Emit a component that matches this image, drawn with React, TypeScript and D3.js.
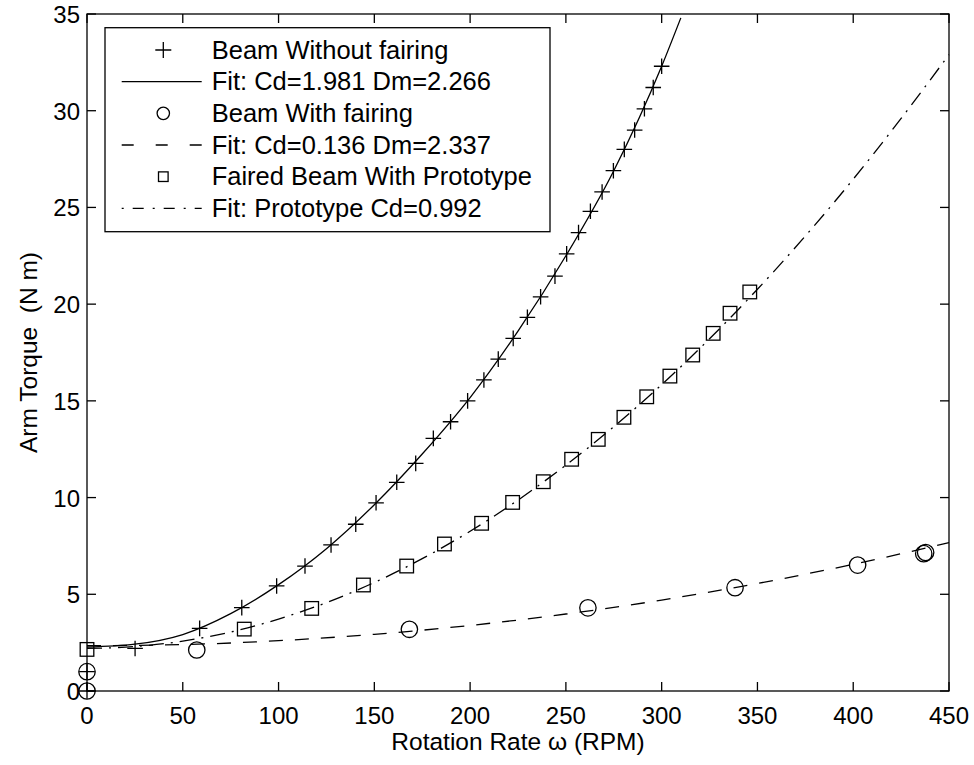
import React from "react";
import * as d3 from "d3";

// Axis ticks
const rpmTicks = [0, 50, 100, 150, 200, 250, 300, 350, 400, 450];
const torqueTicks = [0, 5, 10, 15, 20, 25, 30, 35];

// Beam without fairing: measured points
const bareRpm = [0, 0, 25.1, 58.8, 80.8, 99, 113.8, 127.4, 140.3, 150.9, 161.7, 171.6, 180.8, 189.8, 198.7, 207.2, 214.7, 222.5, 229.9, 236.8, 244.3, 250.4, 256.6, 262.8, 268.9, 274.8, 280.5, 285.9, 291, 295.6, 300];
const bareTorque = [0, 1, 2.2, 3.24, 4.31, 5.43, 6.46, 7.55, 8.62, 9.73, 10.79, 11.77, 13.06, 13.92, 15.0, 16.08, 17.16, 18.23, 19.32, 20.38, 21.45, 22.6, 23.7, 24.8, 25.8, 26.9, 28.0, 29.0, 30.1, 31.2, 32.3];

// Fit: Cd=1.981 Dm=2.266
const bareFitRpm = [0, 25, 50, 75, 100, 125, 150, 175, 200, 225, 250, 275, 300, 310];
const bareFitTorque = [2.27, 2.42, 2.92, 4.0, 5.5, 7.36, 9.63, 12.25, 15.17, 18.6, 22.5, 26.9, 32.3, 34.8];

// Beam with fairing: measured points
const fairedRpm = [0, 0, 57.3, 168.3, 261.5, 338.3, 402.3, 436.8, 437.8];
const fairedTorque = [0, 1, 2.12, 3.19, 4.3, 5.34, 6.51, 7.1, 7.16];

// Fit: Cd=0.136 Dm=2.337
const fairedFitRpm = [0, 50, 100, 150, 200, 250, 300, 350, 400, 450];
const fairedFitTorque = [2.34, 2.4, 2.6, 2.93, 3.39, 3.98, 4.7, 5.56, 6.55, 7.67];

// Faired beam with prototype: measured points
const protoRpm = [0, 82.1, 117.3, 144.3, 166.9, 186.6, 206, 222.2, 238.2, 253, 266.9, 280.3, 292.2, 304.3, 316.2, 326.9, 335.7, 346];
const protoTorque = [2.15, 3.2, 4.27, 5.48, 6.46, 7.6, 8.67, 9.75, 10.82, 11.98, 13.01, 14.15, 15.21, 16.28, 17.37, 18.49, 19.53, 20.63];

// Fit: Prototype Cd=0.992
const protoFitRpm = [0, 25, 50, 75, 100, 125, 150, 175, 200, 225, 250, 275, 300, 325, 350, 375, 400, 425, 450];
const protoFitTorque = [2.2, 2.3, 2.58, 3.05, 3.72, 4.57, 5.61, 6.84, 8.26, 9.87, 11.68, 13.66, 15.84, 18.21, 20.77, 23.52, 26.46, 29.6, 32.9];

const legendLabels = [
  "Beam Without fairing",
  "Fit: Cd=1.981 Dm=2.266",
  "Beam With fairing",
  "Fit: Cd=0.136 Dm=2.337",
  "Faired Beam With Prototype",
  "Fit: Prototype Cd=0.992",
];

const W = 974;
const H = 765;
const left = 87;
const right = 949;
const top = 14;
const bottom = 691;
const FONT = "'Liberation Sans', Arial, Helvetica, sans-serif";
const DASH = "14,12";
const DASHDOT = "15,7,2,7";

const zip = (xs: number[], ys: number[]) => xs.map((x, i) => [x, ys[i]] as [number, number]);

function Plus({ x, y, s }: { x: number; y: number; s: number }) {
  return (
    <path d={`M${x - s},${y}H${x + s}M${x},${y - s}V${y + s}`} stroke="#000" strokeWidth={1.3} fill="none" />
  );
}
function Circle({ x, y, r }: { x: number; y: number; r: number }) {
  return <circle cx={x} cy={y} r={r} stroke="#000" strokeWidth={1.3} fill="none" />;
}
function Square({ x, y, s }: { x: number; y: number; s: number }) {
  return <rect x={x - s} y={y - s} width={2 * s} height={2 * s} stroke="#000" strokeWidth={1.3} fill="none" />;
}

export default function App() {
  const xs = d3.scaleLinear().domain([0, 450]).range([left, right]);
  const ys = d3.scaleLinear().domain([0, 35]).range([bottom, top]);
  const line = d3
    .line<[number, number]>()
    .x((d) => xs(d[0]))
    .y((d) => ys(d[1]))
    .curve(d3.curveMonotoneX);

  const bare = zip(bareRpm, bareTorque);
  const faired = zip(fairedRpm, fairedTorque);
  const proto = zip(protoRpm, protoTorque);

  const tickLen = 9;
  const legX = 105;
  const legY = 27.7;
  const legW = 445;
  const rowH = 31.67;
  const rowY = (i: number) => legY + 22.3 + i * rowH;
  const mx = 163.3;

  return (
    <svg
      width={W}
      height={H}
      style={{ position: "absolute", left: 0, top: 0, background: "#fff" }}
      fontFamily={FONT}
    >
      <rect x={0} y={0} width={W} height={H} fill="#fff" />

      {/* fitted curves */}
      <path d={line(zip(bareFitRpm, bareFitTorque)) || ""} fill="none" stroke="#000" strokeWidth={1.3} />
      <path d={line(zip(fairedFitRpm, fairedFitTorque)) || ""} fill="none" stroke="#000" strokeWidth={1.3} strokeDasharray={DASH} />
      <path d={line(zip(protoFitRpm, protoFitTorque)) || ""} fill="none" stroke="#000" strokeWidth={1.3} strokeDasharray={DASHDOT} />

      {/* measured points */}
      {bare.map((d, i) => (
        <Plus key={"b" + i} x={xs(d[0])} y={ys(d[1])} s={7.8} />
      ))}
      {faired.map((d, i) => (
        <Circle key={"f" + i} x={xs(d[0])} y={ys(d[1])} r={8.2} />
      ))}
      {proto.map((d, i) => (
        <Square key={"p" + i} x={xs(d[0])} y={ys(d[1])} s={6.8} />
      ))}

      {/* axes box */}
      <rect x={left} y={top} width={right - left} height={bottom - top} fill="none" stroke="#000" strokeWidth={1.3} />
      {rpmTicks.map((t) => (
        <g key={"xt" + t}>
          <line x1={xs(t)} x2={xs(t)} y1={bottom} y2={bottom - tickLen} stroke="#000" strokeWidth={1.3} />
          <line x1={xs(t)} x2={xs(t)} y1={top} y2={top + tickLen} stroke="#000" strokeWidth={1.3} />
          <text x={xs(t)} y={724} fontSize={24} textAnchor="middle">
            {t}
          </text>
        </g>
      ))}
      {torqueTicks.map((t) => (
        <g key={"yt" + t}>
          <line x1={left} x2={left + tickLen} y1={ys(t)} y2={ys(t)} stroke="#000" strokeWidth={1.3} />
          <line x1={right} x2={right - tickLen} y1={ys(t)} y2={ys(t)} stroke="#000" strokeWidth={1.3} />
          <text x={80} y={ys(t) + 9} fontSize={24} textAnchor="end">
            {t}
          </text>
        </g>
      ))}

      {/* axis labels */}
      <text x={(left + right) / 2} y={750} fontSize={24.5} textAnchor="middle">
        Rotation Rate ω (RPM)
      </text>
      <text
        transform={`translate(37,${(top + bottom) / 2}) rotate(-90)`}
        fontSize={24.5}
        textAnchor="middle"
        style={{ whiteSpace: "pre" }}
      >
        {"Arm Torque  (N m)"}
      </text>

      {/* legend */}
      <rect x={legX} y={legY} width={legW} height={231.7 - legY} fill="#fff" stroke="#000" strokeWidth={1.3} />
      <Plus x={mx} y={rowY(0)} s={8} />
      <line x1={121.7} x2={201.7} y1={rowY(1)} y2={rowY(1)} stroke="#000" strokeWidth={1.3} />
      <Circle x={mx} y={rowY(2)} r={6.2} />
      <line x1={121.7} x2={201.7} y1={rowY(3)} y2={rowY(3)} stroke="#000" strokeWidth={1.3} strokeDasharray="12,22" />
      <Square x={mx} y={rowY(4)} s={4.8} />
      <line x1={121.7} x2={201.7} y1={rowY(5)} y2={rowY(5)} stroke="#000" strokeWidth={1.3} strokeDasharray="2,9,11,9" />
      {legendLabels.map((s, i) => (
        <text key={s} x={211.7} y={rowY(i) + 8.5} fontSize={25.5}>
          {s}
        </text>
      ))}
    </svg>
  );
}
